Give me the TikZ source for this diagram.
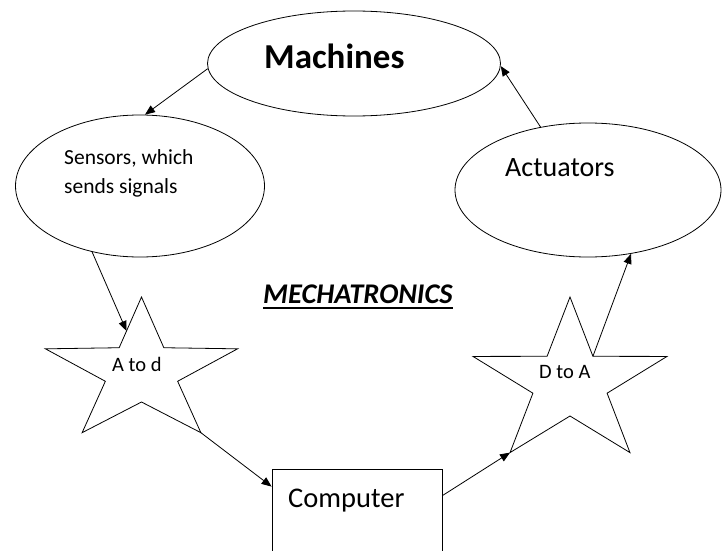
\documentclass[tikz,border=0pt]{standalone}
\usepackage{fontspec}
\setmainfont{Carlito}
\usetikzlibrary{shapes.geometric,arrows.meta,calc}
\begin{document}
\begin{tikzpicture}[x=1pt,y=-1pt,
  ell/.style={ellipse, draw, line width=0.8pt, inner sep=0pt},
  boxshape/.style={draw, line width=0.8pt, inner sep=0pt},
  starline/.style={line width=0.8pt, line join=miter},
  lbl/.style={inner sep=0pt, anchor=base west},
  conn/.style={line width=0.8pt, -{Triangle[length=10pt,width=8pt]}},
]
\clip (0,0) rectangle (725,551);
\fill[white] (0,0) rectangle (725,551);

% ellipses and box
\node[ell, minimum width=293pt, minimum height=105pt] (mach) at (354,63.5) {};
\node[ell, minimum width=249pt, minimum height=142pt] (sens) at (140,186) {};
\node[ell, minimum width=266pt, minimum height=134pt] (act) at (588,190) {};
\node[boxshape, minimum width=170pt, minimum height=120pt] (comp) at (357,529) {};

% star A to d
\begin{scope}[shift={(141.5,372)}, yscale=-1]
\draw[starline] (90:101 and 75) coordinate (s1o1) -- (126:38 and 30) coordinate (s1i1)
  -- (162:101 and 75) coordinate (s1o2) -- (198:38 and 30) coordinate (s1i2)
  -- (234:101 and 75) coordinate (s1o3) -- (270:38 and 30) coordinate (s1i3)
  -- (306:101 and 75) coordinate (s1o4) -- (342:38 and 30) coordinate (s1i4)
  -- (18:101 and 75) coordinate (s1o5) -- (54:38 and 30) coordinate (s1i5) -- cycle;
\end{scope}

% star D to A
\begin{scope}[shift={(570,383)}, yscale=-1]
\draw[starline] (90:102 and 86) coordinate (s2o1) -- (126:39 and 33) coordinate (s2i1)
  -- (162:102 and 86) coordinate (s2o2) -- (198:39 and 33) coordinate (s2i2)
  -- (234:102 and 86) coordinate (s2o3) -- (270:39 and 33) coordinate (s2i3)
  -- (306:102 and 86) coordinate (s2o4) -- (342:39 and 33) coordinate (s2i4)
  -- (18:102 and 86) coordinate (s2o5) -- (54:39 and 33) coordinate (s2i5) -- cycle;
\end{scope}
\coordinate (s1in) at ($(s1o1)!0.67!(s1i1)$);

% labels
\node[lbl, font=\bfseries\fontsize{35}{42}\selectfont] (tmach) at (264,68) {Machines};
\node[lbl, font=\fontsize{21.5}{29}\selectfont] (tsens1) at (64,164) {Sensors, which};
\node[lbl, font=\fontsize{21.5}{29}\selectfont] (tsens2) at (64,193) {sends signals};
\node[lbl, font=\fontsize{28}{33}\selectfont] (tact) at (505,176) {Actuators};
\node[lbl, font=\fontsize{28.5}{33}\selectfont] (tcomp) at (288,507) {Computer};
\node[lbl, font=\fontsize{20.5}{24}\selectfont] (tatod) at (112,371) {A to d};
\node[lbl, font=\fontsize{20.5}{24}\selectfont] (tdtoa) at (539,378) {D to A};
\node[lbl, font=\bfseries\itshape\fontsize{28.5}{33}\selectfont] (tmech) at (263,303) {MECHATRONICS};
\draw[line width=1.3pt] ([yshift=-5pt]tmech.base west) -- ([yshift=-5pt]tmech.base east);

% connectors
\draw[conn] (mach.182) -- (sens.86);
\draw[conn] (sens.234) -- (s1in);
\draw[conn] (s1o4) -- ([yshift=-18pt]comp.north west);
\draw[conn] ([yshift=-27pt]comp.north east) -- (s2o3);
\draw[conn] (s2i5) -- (act.-56);
\draw[conn] (act.127) -- (mach.-1);
\end{tikzpicture}
\end{document}
